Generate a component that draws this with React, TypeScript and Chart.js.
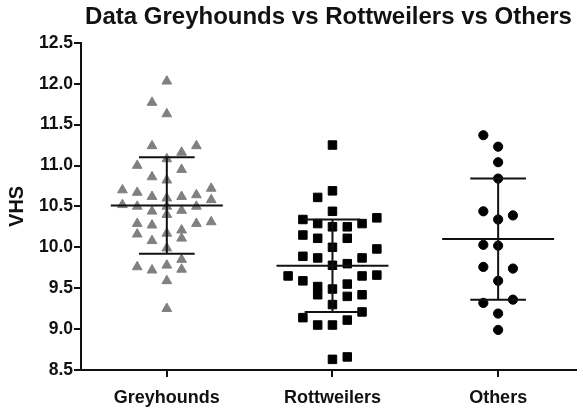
import React, { useEffect, useRef } from "react";
import { Chart, registerables } from "chart.js";

Chart.register(...registerables);

const categories = ["Greyhounds", "Rottweilers", "Others"];

const greyhoundValues = [
  12.03, 11.77, 11.63, 11.24, 11.24, 11.16, 11.08, 11.0, 10.95, 10.86, 10.82,
  10.7, 10.67, 10.72, 10.58, 10.64, 10.62, 10.62, 10.6, 10.52, 10.5, 10.5, 10.5,
  10.44, 10.45, 10.4, 10.29, 10.31, 10.29, 10.27, 10.17, 10.21, 10.16, 10.11,
  10.08, 9.99, 9.85, 9.76, 9.72, 9.78, 9.73, 9.59, 9.25,
];
const greyhoundColumns = [
  0, -1, 0, -1, 2, 1, 0, -2, 1, -1, 0, -3, -2, 3, 3, 2, 1, -1, 0, -3, -2, 2, 0,
  -1, 1, 0, 2, 3, -2, -1, 0, 1, -2, 1, -1, 0, 1, -2, -1, 0, 1, 0, 0,
];

const rottweilerValues = [
  11.25, 10.69, 10.61, 10.44, 10.34, 10.36, 10.29, 10.29, 10.25, 10.25, 10.15,
  10.11, 10.11, 10.0, 9.98, 9.89, 9.87, 9.87, 9.78, 9.8, 9.65, 9.59, 9.65, 9.66,
  9.52, 9.55, 9.42, 9.49, 9.4, 9.42, 9.3, 9.21, 9.14, 9.05, 9.05, 9.11, 8.63, 8.66,
];
const rottweilerColumns = [
  0, 0, -1, 0, -2, 3, -1, 2, 0, 1, -2, -1, 1, 0, 3, -2, -1, 2, 0, 1, -3, -2, 2, 3,
  -1, 1, -1, 0, 1, 2, 0, 2, -2, -1, 0, 1, 0, 1,
];

const otherValues = [
  11.37, 11.23, 11.04, 10.84, 10.44, 10.39, 10.34, 10.03, 10.02, 9.76, 9.74, 9.59,
  9.32, 9.36, 9.19, 8.99,
];
const otherColumns = [-1, 0, 0, 0, -1, 1, 0, -1, 0, -1, 1, 0, -1, 1, 0, 0];

const groupMeans = [10.51, 9.775, 10.1];
const groupSDs = [0.59, 0.565, 0.74];

const yTickValues = [8.5, 9.0, 9.5, 10.0, 10.5, 11.0, 11.5, 12.0, 12.5];

const titleText = "Data Greyhounds vs Rottweilers vs Others";
const yAxisTitle = "VHS";

export default function App() {
  const ref = useRef<HTMLCanvasElement>(null);

  useEffect(() => {
    document.body.style.margin = "0";
    const canvas = ref.current;
    if (!canvas) return;

    const STEP = 0.0893;
    const MEAN_HALF = 0.338;
    const WHISKER_HALF = 0.168;
    const FONT = "'Liberation Sans', Arial, sans-serif";
    const INK = "#111111";

    const groups = [
      { values: greyhoundValues, cols: greyhoundColumns, style: "triangle", color: "#808080", radius: 5.6 },
      { values: rottweilerValues, cols: rottweilerColumns, style: "rect", color: "#000000", radius: 6.0 },
      { values: otherValues, cols: otherColumns, style: "circle", color: "#000000", radius: 4.6 },
    ];

    const datasets: any[] = [];
    groups.forEach((g, i) => {
      datasets.push({
        type: "scatter",
        data: g.values.map((v, k) => ({ x: i + g.cols[k] * STEP, y: v })),
        pointStyle: g.style,
        pointRadius: g.radius,
        pointHoverRadius: g.radius,
        backgroundColor: g.color,
        borderColor: g.color,
        borderWidth: 1,
        order: 1,
      });
    });
    groups.forEach((_, i) => {
      const m = groupMeans[i];
      const s = groupSDs[i];
      const segs = [
        [[i - MEAN_HALF, m], [i + MEAN_HALF, m]],
        [[i - WHISKER_HALF, m + s], [i + WHISKER_HALF, m + s]],
        [[i - WHISKER_HALF, m - s], [i + WHISKER_HALF, m - s]],
        [[i, m - s], [i, m + s]],
      ];
      segs.forEach((seg) =>
        datasets.push({
          type: "line",
          data: seg.map(([x, y]) => ({ x, y })),
          borderColor: INK,
          borderWidth: 2,
          pointRadius: 0,
          fill: false,
          order: 0,
        })
      );
    });

    const chart = new Chart(canvas, {
      type: "scatter",
      data: { datasets },
      options: {
        animation: false,
        responsive: false,
        devicePixelRatio: 1,
        layout: { padding: { top: 0, left: 0, right: 0, bottom: 0 } },
        plugins: {
          legend: { display: false },
          tooltip: { enabled: false },
          title: {
            display: true,
            fullSize: false,
            text: titleText,
            color: INK,
            font: { family: FONT, size: 24, weight: "bold" },
            padding: { top: 3, bottom: 11 },
          },
        },
        scales: {
          x: {
            type: "linear",
            min: -0.518,
            max: 2.47,
            afterBuildTicks: (s: any) => {
              s.ticks = categories.map((_, i) => ({ value: i }));
            },
            afterFit: (s: any) => {
              s.height = 40;
            },
            ticks: {
              autoSkip: false,
              maxRotation: 0,
              padding: 10,
              color: INK,
              font: { family: FONT, size: 18, weight: "bold" },
              callback: (v: any) => categories[Math.round(Number(v))] ?? "",
            },
            grid: { drawOnChartArea: false, drawTicks: true, tickLength: 7, color: INK, lineWidth: 2 },
            border: { display: true, color: INK, width: 2 },
          },
          y: {
            type: "linear",
            min: 8.5,
            max: 12.5,
            afterBuildTicks: (s: any) => {
              s.ticks = yTickValues.map((v) => ({ value: v }));
            },
            afterFit: (s: any) => {
              s.width = 81;
            },
            ticks: {
              padding: 1,
              color: INK,
              font: { family: FONT, size: 17.5, weight: "bold" },
              callback: (v: any) => Number(v).toFixed(1),
            },
            title: {
              display: true,
              text: yAxisTitle,
              color: INK,
              font: { family: FONT, size: 20, weight: "bold" },
              padding: { top: 5, bottom: 4 },
            },
            grid: { drawOnChartArea: false, drawTicks: true, tickLength: 7, color: INK, lineWidth: 2 },
            border: { display: true, color: INK, width: 2 },
          },
        },
      } as any,
    });

    return () => chart.destroy();
  }, []);

  return (
    <canvas
      ref={ref}
      width={583}
      height={410}
      style={{ display: "block", width: 583, height: 410 }}
    />
  );
}
